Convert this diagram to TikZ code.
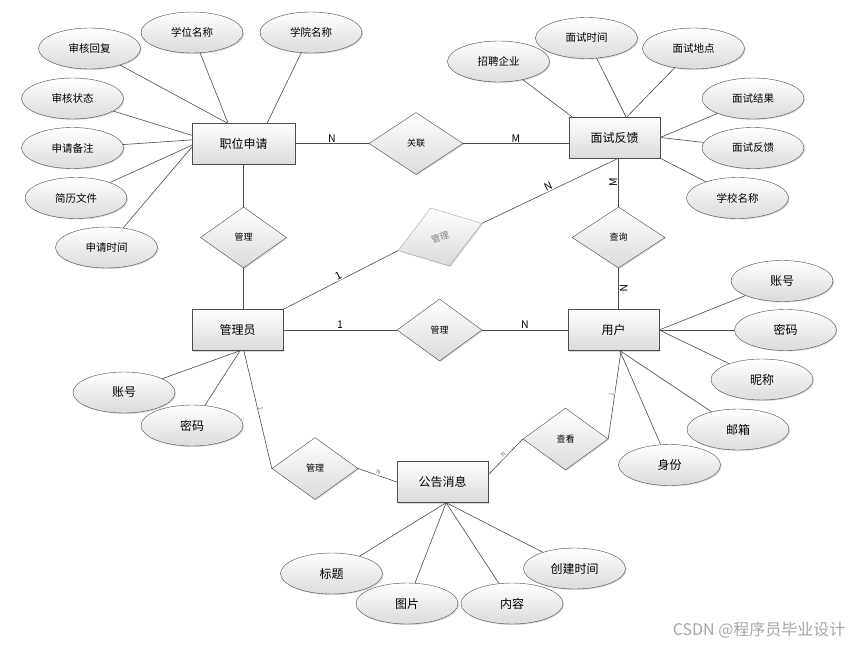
\documentclass[tikz,border=0pt]{standalone}
\usepackage{fontspec}
\setmainfont{Noto Sans CJK SC}
\usepackage{tikz}
\usetikzlibrary{calc,positioning,shadows,shapes}

\begin{document}
\begin{tikzpicture}[auto,on grid]
	\tikzstyle{shade} = [draw=black!70, top color=white, bottom color=black!14, drop shadow={shadow xshift=1pt, shadow yshift=-1pt, opacity=0.3}]
	\tikzstyle{entity} = [shade, rectangle, minimum height=41pt, minimum width=91pt, inner sep=0pt, font=\fontsize{12}{12}\selectfont]
	\tikzstyle{attr} = [shade, ellipse, minimum height=41pt, minimum width=102pt, inner sep=0pt, font=\fontsize{10.5}{10.5}\selectfont]
	\tikzstyle{attrbig} = [attr, font=\fontsize{12}{12}\selectfont]
	\tikzstyle{relation} = [shade, diamond, minimum height=61pt, minimum width=86pt, inner sep=0pt, font=\fontsize{9}{9}\selectfont]
	\tikzstyle{link} = [draw=black!70, line width=0.6pt]
	\tikzstyle{card} = [fill=white, inner sep=1pt, font=\fontsize{10.5}{10.5}\selectfont]
	\tikzstyle{smallcard} = [fill=white, inner sep=0.5pt, sloped, text=black!55, font=\fontsize{6}{6}\selectfont]
	
	\useasboundingbox (0,0) rectangle (851pt,-645pt);
	
	% entities
	\node [entity, minimum width=103pt] at (243.5pt,-143.5pt) (zwsq){职位申请};
	\node [entity, above right=6pt and 371pt of zwsq] (msfk){面试反馈};
	\node [entity, below left=186.5pt and 6pt of zwsq] (gly){管理员};
	\node [entity, right=376pt of gly] (yh){用户};
	\node [entity, below right=152pt and 205pt of gly] (gg){公告消息};
	
	% relations
	\node [relation, below=94pt of zwsq] (glzw){管理};
	\node [relation, minimum width=94pt, minimum height=62pt, right=172.5pt of zwsq] (gl){关联};
	\node [relation, draw=black!35, text=black!50, minimum width=88pt, rotate=18, above right=93pt and 202.5pt of gly] (glfk){管理};
	\node [relation, minimum width=93pt, above right=92.5pt and 5pt of yh] (cx){查询};
	\node [relation, minimum width=85pt, minimum height=62pt, right=202pt of gly] (glyh){管理};
	\node [relation, minimum height=62pt, below right=138.5pt and 77.5pt of gly] (glgg){管理};
	\node [relation, minimum width=85pt, minimum height=62pt, below left=109pt and 48pt of yh] (ck){查看};
	
	% attributes of 职位申请
	\node [attr, above left=95pt and 154pt of zwsq] (shhf){审核回复};
	\node [attr, above left=111pt and 51.5pt of zwsq] (xwmc){学位名称};
	\node [attr, above right=111pt and 67.5pt of zwsq] (xymc){学院名称};
	\node [attr, above left=45pt and 171pt of zwsq] (shzt){审核状态};
	\node [attr, below left=4.5pt and 171pt of zwsq] (sqbz){申请备注};
	\node [attr, below left=54.5pt and 167.5pt of zwsq] (jlwj){简历文件};
	\node [attr, below left=104pt and 137pt of zwsq] (sqsj){申请时间};
	
	% attributes of 面试反馈
	\node [attr, above left=76pt and 116pt of msfk] (zpqy){招聘企业};
	\node [attr, above left=99.5pt and 28pt of msfk] (mssj){面试时间};
	\node [attr, above right=89pt and 79pt of msfk] (msdd){面试地点};
	\node [attr, above right=39pt and 138.5pt of msfk] (msjg){面试结果};
	\node [attr, below right=10.5pt and 138.5pt of msfk] (fkattr){面试反馈};
	\node [attr, below right=60.5pt and 123pt of msfk] (xxmc){学校名称};
	
	% attributes of 管理员
	\node [attrbig, below left=62.5pt and 113.5pt of gly] (glyzh){账号};
	\node [attrbig, below left=95.5pt and 45.5pt of gly] (glymm){密码};
	
	% attributes of 用户
	\node [attrbig, above right=49pt and 168.5pt of yh] (yhzh){账号};
	\node [attrbig, right=172pt of yh] (yhmm){密码};
	\node [attrbig, below right=49.5pt and 148.5pt of yh] (nc){昵称};
	\node [attrbig, below right=99.5pt and 124.5pt of yh] (yx){邮箱};
	\node [attrbig, below right=135pt and 56pt of yh] (sf){身份};
	
	% attributes of 公告消息
	\node [attrbig, below left=91.5pt and 111pt of gg] (bt){标题};
	\node [attrbig, below left=121.5pt and 35.5pt of gg] (tp){图片};
	\node [attrbig, below right=86.5pt and 132pt of gg] (cjsj){创建时间};
	\node [attrbig, below right=121.5pt and 69.5pt of gg] (nr){内容};
	
	\node [anchor=east, text=black!35, font=\fontsize{16}{16}\selectfont] at (849pt,-630pt) (mark){CSDN @程序员毕业设计};
	
	% attribute links
	\draw [link] (shhf) -- (zwsq.129);
	\draw [link] (xwmc) -- (zwsq.127);
	\draw [link] (xymc) -- (zwsq.41);
	\draw [link] (shzt) -- (zwsq.171);
	\draw [link] (sqbz) -- (zwsq.176);
	\draw [link] (jlwj) -- (zwsq.182);
	\draw [link] (sqsj) -- (zwsq.184);
	
	\draw [link] (zpqy) -- (msfk.154);
	\draw [link] (mssj) -- (msfk.61);
	\draw [link] (msdd) -- (msfk.59);
	\draw [link] (msjg) -- (msfk.east);
	\draw [link] (fkattr) -- (msfk.east);
	\draw [link] (xxmc) -- (msfk.south east);
	
	\draw [link] (glyzh) -- (gly.-83);
	\draw [link] (glymm) -- (gly.-83);
	
	\draw [link] (yhzh) -- (yh.east);
	\draw [link] (yhmm) -- (yh.east);
	\draw [link] (nc) -- (yh.east);
	\draw [link] (yx) -- (yh.-73);
	\draw [link] (sf) -- (yh.-73);
	
	\draw [link] (bt) -- (gg.-80);
	\draw [link] (tp) -- (gg.-80);
	\draw [link] (nr) -- (gg.-80);
	\draw [link] (cjsj) -- (gg.-80);
	
	% relation links
	\draw [link] (zwsq) --node[card]{N} (gl);
	\draw [link] (gl) --node[card]{M} (gl -| msfk.west);
	\draw [link] (glzw.north |- zwsq.south) -- (glzw.north);
	\draw [link] (glzw.south) -- (glzw.south |- gly.north);
	\draw [link] (gly.north east) --node[card, sloped]{1} (glfk.west);
	\draw [link] (glfk.east) --node[card, sloped]{N} (cx.north |- msfk.south);
	\draw [link] (cx.north) --node[card, sloped]{M} (cx.north |- msfk.south);
	\draw [link] (cx.south) --node[card, sloped]{N} (cx.south |- yh.north);
	\draw [link] (gly) --node[card]{1} (glyh);
	\draw [link] (glyh) --node[card]{N} (yh);
	\draw [link] (gly.-73) --node[smallcard]{1} (glgg.west);
	\draw [link] (glgg.east) --node[smallcard]{N} (gg.west);
	\draw [link] (gg.9) --node[smallcard]{N} (ck.west);
	\draw [link] (ck.east) --node[smallcard]{1} (yh.-70);
\end{tikzpicture}
\end{document}
